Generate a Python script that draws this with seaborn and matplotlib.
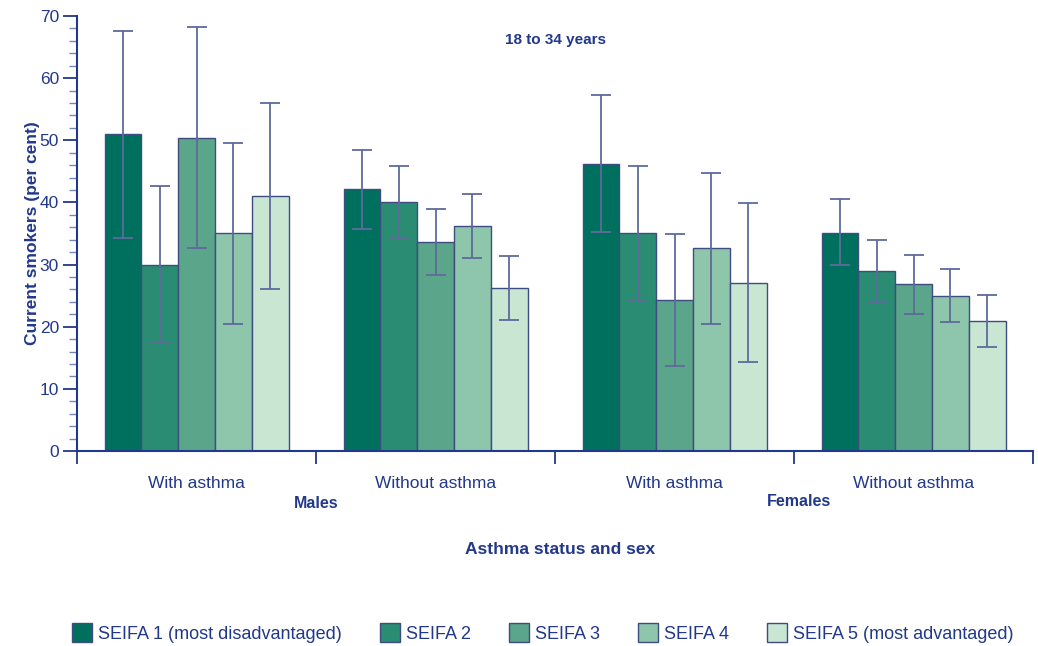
import matplotlib
matplotlib.use("Agg")
import matplotlib.pyplot as plt
import matplotlib.patches as mpatches
import numpy as np
import pandas as pd
import seaborn as sns

categories = ["Males, with asthma", "Males, without asthma", "Females, with asthma", "Females, without asthma"]
cat_labels = ["With asthma", "Without asthma", "With asthma", "Without asthma"]
series = ["SEIFA 1 (most disadvantaged)", "SEIFA 2", "SEIFA 3", "SEIFA 4", "SEIFA 5 (most advantaged)"]
values = {
    "SEIFA 1 (most disadvantaged)": [51.0, 42.1, 46.2, 35.1],
    "SEIFA 2": [30.0, 40.0, 35.0, 29.0],
    "SEIFA 3": [50.4, 33.7, 24.3, 26.8],
    "SEIFA 4": [35.1, 36.2, 32.6, 25.0],
    "SEIFA 5 (most advantaged)": [41.0, 26.2, 27.1, 20.9],
}
lower = {
    "SEIFA 1 (most disadvantaged)": [34.3, 35.8, 35.2, 29.9],
    "SEIFA 2": [17.3, 34.2, 24.3, 24.0],
    "SEIFA 3": [32.6, 28.3, 13.7, 22.0],
    "SEIFA 4": [20.5, 31.0, 20.5, 20.7],
    "SEIFA 5 (most advantaged)": [26.0, 21.0, 14.3, 16.7],
}
upper = {
    "SEIFA 1 (most disadvantaged)": [67.6, 48.4, 57.3, 40.5],
    "SEIFA 2": [42.6, 45.8, 45.9, 33.9],
    "SEIFA 3": [68.3, 39.0, 34.9, 31.6],
    "SEIFA 4": [49.6, 41.4, 44.8, 29.3],
    "SEIFA 5 (most advantaged)": [56.0, 31.3, 39.9, 25.1],
}
colors = ["#00705E", "#2A8C72", "#5BA58A", "#8EC6AC", "#C8E6D1"]

navy = "#22388A"
edge = "#3E4C80"
err_col = "#5F6A9C"

sns.set_theme(style="white")
plt.rcParams["font.family"] = ["Liberation Sans", "DejaVu Sans"]

rows = []
for s in series:
    for c, v in zip(categories, values[s]):
        rows.append({"cat": c, "series": s, "value": v})
df = pd.DataFrame(rows)

fig = plt.figure(figsize=(10.38, 6.46), dpi=100)
ax = fig.add_axes([0.0742, 0.3019, 0.9210, 0.6733])

sns.barplot(data=df, x="cat", y="value", hue="series", order=categories,
            hue_order=series, palette=colors, width=0.77, ax=ax,
            edgecolor=edge, linewidth=1.0, legend=False, errorbar=None,
            saturation=1)

# error bars from bar positions
for cont, s in zip(ax.containers, series):
    xs = [p.get_x() + p.get_width() / 2 for p in cont.patches]
    v = np.array(values[s])
    lo = v - np.array(lower[s])
    hi = np.array(upper[s]) - v
    ax.errorbar(xs, v, yerr=[lo, hi], fmt="none", ecolor=err_col,
                elinewidth=1.3, capsize=7, capthick=1.3, zorder=5)

ax.set_xlim(-0.5, 3.5)
ax.set_ylim(0, 70)
ax.set_yticks(np.arange(0, 71, 10))
ax.set_yticks(np.arange(0, 71, 2), minor=True)
ax.set_xticks([-0.5, 0.5, 1.5, 2.5, 3.5])
ax.set_xticklabels([])
ax.set_xticks([0, 1, 2, 3], minor=True)
ax.set_xticklabels(cat_labels, minor=True)

for sp in ["top", "right"]:
    ax.spines[sp].set_visible(False)
for sp in ["left", "bottom"]:
    ax.spines[sp].set_color(navy)
    ax.spines[sp].set_linewidth(1.5)

ax.tick_params(axis="y", which="major", direction="out", length=10, width=1.3,
               color=navy, labelcolor=navy, labelsize=12.5, pad=3, left=True)
ax.tick_params(axis="y", which="minor", direction="out", length=6, width=1.0,
               color="#7A88B8", left=True)
ax.tick_params(axis="x", which="major", direction="out", length=9, width=1.3,
               color=navy, bottom=True)
ax.tick_params(axis="x", which="minor", length=0, labelcolor=navy,
               labelsize=12.5, pad=18)

ax.set_xlabel("")
ax.set_ylabel("Current smokers (per cent)", color=navy, fontsize=12.5,
              fontweight="bold", labelpad=0)

ax.text(0.5, 1.0 - (40 - 16) / 435, "18 to 34 years", transform=ax.transAxes,
        ha="center", va="center", color=navy, fontsize=11, fontweight="bold")

trans = matplotlib.transforms.blended_transform_factory(ax.transData, fig.transFigure)
ax.text(0.5, 1 - 504 / 646, "Males", transform=trans, ha="center", va="center",
        color=navy, fontsize=11.5, fontweight="bold")
ax.text(2.52, 1 - 501 / 646, "Females", transform=trans, ha="center", va="center",
        color=navy, fontsize=11.5, fontweight="bold")
fig.text(560 / 1038, 1 - 549 / 646, "Asthma status and sex", ha="center",
         va="center", color=navy, fontsize=12.5, fontweight="bold")

handles = [mpatches.Patch(facecolor=c, edgecolor=edge, linewidth=1.0, label=s)
           for c, s in zip(colors, series)]
leg = fig.legend(handles=handles, loc="center", bbox_to_anchor=(543 / 1038, 1 - 633 / 646),
                 ncol=5, frameon=False, fontsize=13, handlelength=1.1,
                 handleheight=1.25, columnspacing=2.1, handletextpad=0.35)
for t in leg.get_texts():
    t.set_color(navy)

fig.savefig("out.png", dpi=100)
